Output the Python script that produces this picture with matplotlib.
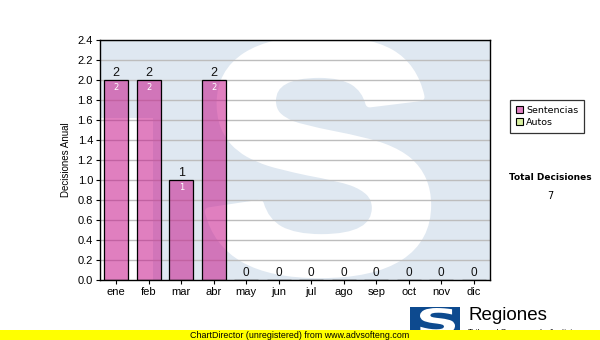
import matplotlib
matplotlib.use("Agg")
import matplotlib.pyplot as plt
import numpy as np
from matplotlib.font_manager import FontProperties
from matplotlib.patches import PathPatch, Rectangle
from matplotlib.textpath import TextPath
from matplotlib.transforms import Affine2D

# data
months = ["ene", "feb", "mar", "abr", "may", "jun", "jul", "ago", "sep", "oct", "nov", "dic"]
sentencias = [2, 2, 1, 2, 0, 0, 0, 0, 0, 0, 0, 0]
autos = [0, 0, 0, 0, 0, 0, 0, 0, 0, 0, 0, 0]
total = sum(sentencias) + sum(autos)

W, H = 600, 340
BAR_RGBA = (0.78, 0.09, 0.55, 0.55)
WM_BLUE = "#dfe8f1"
SANS = "Liberation Sans"


def fx(px):
    return px / W


def fy(py):
    return 1 - py / H


def glyph_patch(char, box, transform, color, zorder, stroke=0.0, family="DejaVu Sans"):
    # fit a glyph outline into box = (x0, y0, x1, y1) given in transform coords
    tp = TextPath((0, 0), char, size=1, prop=FontProperties(family=family, weight="bold"))
    ext = tp.get_extents()
    x0, y0, x1, y1 = box
    sx = (x1 - x0) / ext.width
    sy = (y1 - y0) / ext.height
    tr = Affine2D().translate(-ext.x0, -ext.y0).scale(sx, sy).translate(x0, y0)
    return PathPatch(tr.transform_path(tp), facecolor=color, edgecolor=color if stroke else "none",
                     lw=stroke, joinstyle="round", transform=transform, zorder=zorder)


fig = plt.figure(figsize=(W / 100, H / 100), dpi=100)
ax = fig.add_axes([fx(100), fy(280), fx(390), 240 / H])

# watermark: light blue tile with a heavy white S
ax.add_patch(Rectangle((0, 0), 1, 1, transform=ax.transAxes, color=WM_BLUE, zorder=0.1, lw=0))
ax.add_patch(Rectangle((0, 0), (153 - 100) / 390, (280 - 118) / 240, transform=ax.transAxes,
                       color="white", zorder=0.2, lw=0))
s_box = ((209 - 100) / 390, (280 - 274) / 240, (427 - 100) / 390, (280 - 40) / 240)
wm = glyph_patch("S", s_box, ax.transAxes, "white", 0.3, stroke=6, family=SANS)
wm.set_clip_path(Rectangle((0, 0), 1, 1, transform=ax.transAxes))
ax.add_patch(wm)

x = np.arange(len(months))
for yv in np.arange(0.2, 2.41, 0.2):
    ax.axhline(yv, color="#bdbdbd", lw=1.0, zorder=0.5)

ax.bar(x, sentencias, width=0.74, facecolor=BAR_RGBA, edgecolor="black", lw=0.9, zorder=2)
for xi, v in zip(x, sentencias):
    ax.annotate(str(v), (xi, v), xytext=(0, 0.5), textcoords="offset points", ha="center",
                va="bottom", fontsize=9 if v > 0 else 8.5, family=SANS, color="#111111", zorder=3)
    if v > 0:
        ax.annotate(str(v), (xi, v), xytext=(0, -2.5), textcoords="offset points", ha="center",
                    va="top", fontsize=6, family="DejaVu Sans", color="white", zorder=3)

ax.set_xlim(-0.5, len(months) - 0.5)
ax.set_ylim(0, 2.4)
ax.set_yticks(np.arange(0, 2.41, 0.2))
ax.set_yticklabels([f"{v:.1f}" for v in np.arange(0, 2.41, 0.2)], family=SANS, fontsize=8)
ax.set_xticks(x)
ax.set_xticklabels(months, family=SANS, fontsize=8)
ax.tick_params(length=3, width=0.8, color="black", pad=2)
for sp in ax.spines.values():
    sp.set_linewidth(1.0)
    sp.set_zorder(4)
ax.set_ylabel("Decisiones Anual", family=SANS, fontsize=7, labelpad=5)

# legend box on the right
leg_handles = [Rectangle((0, 0), 1, 1, facecolor="#e080c0", edgecolor="black", lw=0.8),
               Rectangle((0, 0), 1, 1, facecolor="#d8f0a0", edgecolor="black", lw=0.8)]
leg = fig.legend(leg_handles, ["Sentencias", "Autos"], loc="upper left",
                 bbox_to_anchor=(fx(510), fy(100)), borderaxespad=0, frameon=True, fancybox=False,
                 prop=FontProperties(family="DejaVu Sans", size=6.8), handlelength=0.75,
                 handleheight=0.75, handletextpad=0.3, labelspacing=0.25, borderpad=0.65)
leg.get_frame().set_edgecolor("black")
leg.get_frame().set_linewidth(0.9)

fig.text(fx(550), fy(178), "Total Decisiones", ha="center", va="center", fontsize=6.5,
         family="DejaVu Sans", weight="bold")
fig.text(fx(550), fy(196), str(total), ha="center", va="center", fontsize=7, family="DejaVu Sans")

# logo and footer
fig.patches.append(Rectangle((fx(410), fy(330)), fx(50), (330 - 307) / H, transform=fig.transFigure,
                             color="#0d4a8f", lw=0, zorder=1))
fig.patches.append(glyph_patch("S", (fx(420), fy(334), fx(455), fy(308)), fig.transFigure, "white", 2))
fig.text(fx(468), fy(316), "Regiones", ha="left", va="center", fontsize=13.5, family=SANS, zorder=2)
fig.text(fx(468), fy(333), "Tribunal Supremo de Justicia", ha="left", va="center", fontsize=6,
         family=SANS, zorder=2)
fig.patches.append(Rectangle((0, 0), 1, 10 / H, transform=fig.transFigure, color="#ffff00",
                             lw=0, zorder=5))
fig.text(0.5, 5 / H, "ChartDirector (unregistered) from www.advsofteng.com", ha="center",
         va="center", fontsize=6.4, family=SANS, zorder=6)

fig.savefig("out.png", dpi=100)
